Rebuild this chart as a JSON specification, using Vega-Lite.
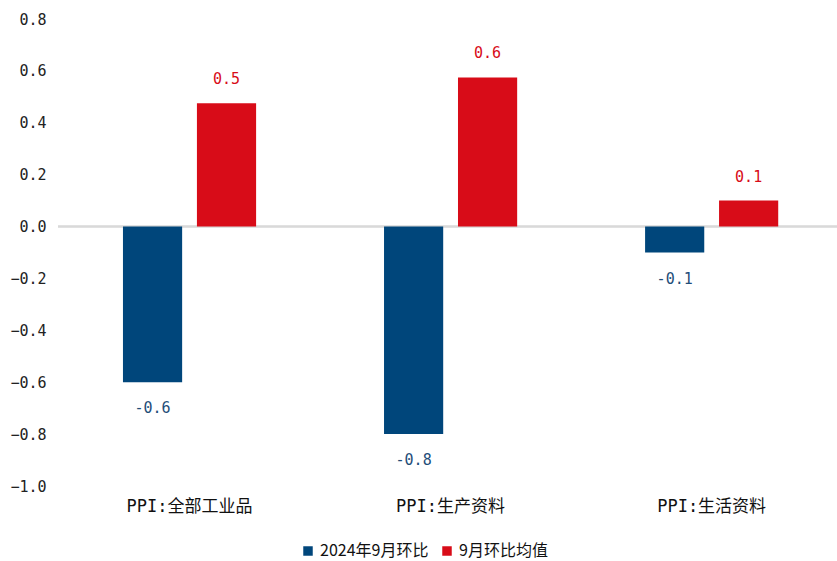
{
  "$schema": "https://vega.github.io/schema/vega-lite/v6.json",
  "width": 779,
  "height": 467,
  "autosize": {"type": "none"},
  "padding": {"left": 58, "top": 19, "right": 0, "bottom": 75},
  "config": {
    "font": "Noto Sans CJK SC",
    "view": {"stroke": null},
    "axis": {"labelFont": "DejaVu Sans Mono, Noto Sans CJK SC", "labelColor": "#222222"},
    "legend": {"labelFont": "Noto Sans CJK SC"}
  },
  "data": {
    "values": [
      {"category": "PPI:全部工业品", "series": "2024年9月环比", "value": -0.6, "label": "-0.6"},
      {"category": "PPI:全部工业品", "series": "9月环比均值", "value": 0.475, "label": "0.5"},
      {"category": "PPI:生产资料", "series": "2024年9月环比", "value": -0.8, "label": "-0.8"},
      {"category": "PPI:生产资料", "series": "9月环比均值", "value": 0.575, "label": "0.6"},
      {"category": "PPI:生活资料", "series": "2024年9月环比", "value": -0.1, "label": "-0.1"},
      {"category": "PPI:生活资料", "series": "9月环比均值", "value": 0.1, "label": "0.1"}
    ]
  },
  "encoding": {
    "x": {
      "field": "category",
      "type": "nominal",
      "sort": null,
      "title": null,
      "scale": {"paddingInner": 0.49, "paddingOuter": 0.237, "align": 0.525},
      "axis": {"labelAngle": 0, "domain": false, "ticks": false, "labelFontSize": 17, "labelPadding": 12, "labelColor": "#111111"}
    },
    "xOffset": {"field": "series", "type": "nominal", "sort": null, "scale": {"paddingInner": 0.2, "paddingOuter": 0}}
  },
  "layer": [
    {
      "mark": {"type": "rule", "color": "#d9d9d9", "strokeWidth": 1.5},
      "encoding": {"y": {"datum": 0}, "x": {}, "xOffset": {}}
    },
    {
      "mark": {"type": "bar"},
      "encoding": {
        "y": {
          "field": "value",
          "type": "quantitative",
          "title": null,
          "scale": {"domain": [-1.0, 0.8], "nice": false, "zero": true},
          "axis": {
            "values": [-1.0, -0.8, -0.6, -0.4, -0.2, 0.0, 0.2, 0.4, 0.6, 0.8],
            "format": ".1f",
            "domain": false,
            "ticks": false,
            "grid": false,
            "labelFontSize": 15,
            "labelPadding": 12
          }
        },
        "color": {
          "field": "series",
          "type": "nominal",
          "sort": null,
          "scale": {"domain": ["2024年9月环比", "9月环比均值"], "range": ["#00467B", "#D80C18"]},
          "legend": {
            "title": null,
            "orient": "none",
            "direction": "horizontal",
            "legendX": 242,
            "legendY": 524,
            "symbolType": "square",
            "symbolSize": 90,
            "labelFontSize": 16,
            "labelColor": "#111111",
            "columnPadding": 10,
            "symbolStrokeWidth": 0
          }
        }
      }
    },
    {
      "transform": [{"filter": "datum.value >= 0"}],
      "mark": {"type": "text", "baseline": "bottom", "dy": -16, "fontSize": 15, "font": "DejaVu Sans Mono", "color": "#D80C18"},
      "encoding": {
        "y": {"field": "value", "type": "quantitative"},
        "text": {"field": "label"}
      }
    },
    {
      "transform": [{"filter": "datum.value < 0"}],
      "mark": {"type": "text", "baseline": "top", "dy": 19, "fontSize": 15, "font": "DejaVu Sans Mono", "color": "#1F4E79"},
      "encoding": {
        "y": {"field": "value", "type": "quantitative"},
        "text": {"field": "label"}
      }
    }
  ]
}
